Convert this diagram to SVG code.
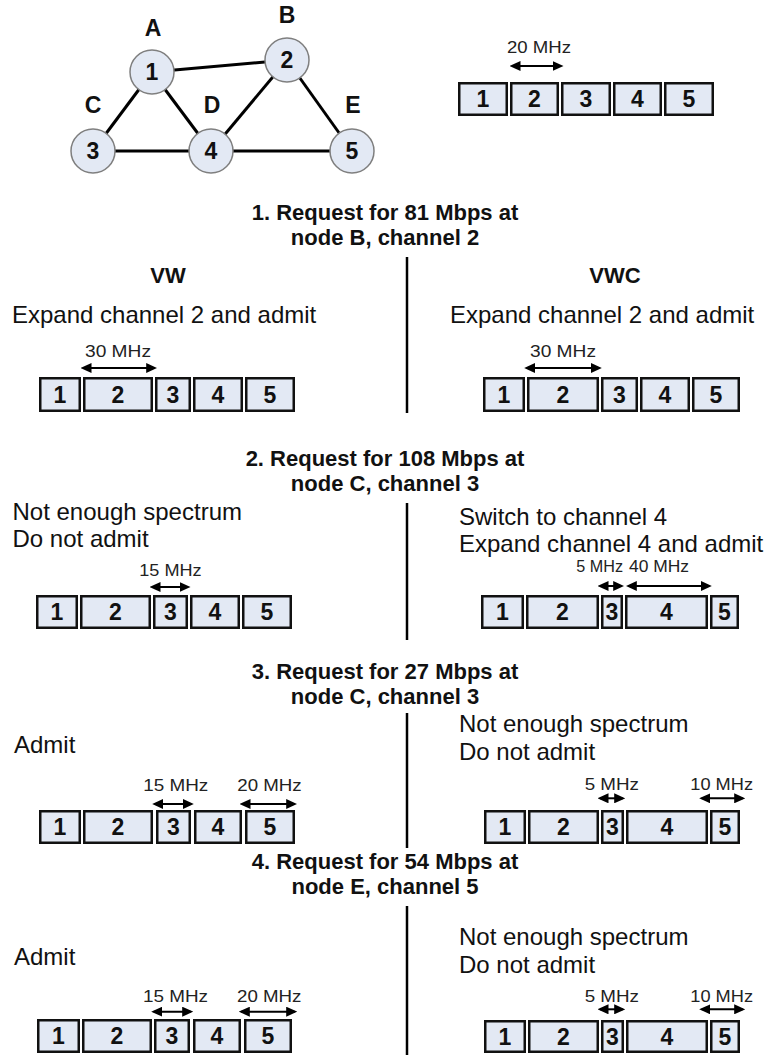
<svg xmlns="http://www.w3.org/2000/svg" width="766" height="1055" viewBox="0 0 766 1055">
<defs>
<style>
.bg{fill:#ffffff}
.edge{stroke:#000;stroke-width:3}
.node{fill:#e3e9f4;stroke:#7f7f7f;stroke-width:1.5}
.box{fill:#e3e9f4;stroke:#111;stroke-width:2.5}
.num{font-family:"Liberation Sans",Arial,sans-serif;font-weight:bold;font-size:23px;text-anchor:middle;fill:#111}
.lbl{font-family:"Liberation Sans",Arial,sans-serif;font-weight:bold;font-size:23px;text-anchor:middle;fill:#111}
.title{font-family:"Liberation Sans",Arial,sans-serif;font-weight:bold;font-size:22px;text-anchor:middle;fill:#111}
.body{font-family:"Liberation Sans",Arial,sans-serif;font-size:24px;fill:#111}
.mhz{font-family:"Liberation Sans",Arial,sans-serif;font-size:16.5px;fill:#222}
.arr{stroke:#000;stroke-width:2;fill:none;marker-start:url(#ah);marker-end:url(#ah)}
.div{stroke:#000;stroke-width:2.5}
</style>
<marker id="ah" markerUnits="userSpaceOnUse" markerWidth="11" markerHeight="10" refX="8.5" refY="5" orient="auto-start-reverse" viewBox="0 0 11 10">
<path d="M0,0 L11,5 L0,10 z" fill="#000"/>
</marker>
</defs>
<rect class="bg" x="0" y="0" width="766" height="1055"/>

<g id="connectors">
<line class="edge" x1="152" y1="72" x2="287" y2="60"/>
<line class="edge" x1="152" y1="72" x2="93" y2="151"/>
<line class="edge" x1="152" y1="72" x2="211" y2="151"/>
<line class="edge" x1="287" y1="60" x2="211" y2="151"/>
<line class="edge" x1="287" y1="60" x2="352" y2="151"/>
<line class="edge" x1="93" y1="151" x2="211" y2="151"/>
<line class="edge" x1="211" y1="151" x2="352" y2="151"/>
</g>

<g id="node-1"><circle class="node" cx="152" cy="72" r="22"/><text class="num" x="152" y="80">1</text><text class="lbl" x="153" y="36">A</text></g>
<g id="node-2"><circle class="node" cx="287" cy="60" r="22"/><text class="num" x="287" y="68">2</text><text class="lbl" x="287" y="23">B</text></g>
<g id="node-3"><circle class="node" cx="93" cy="151" r="22"/><text class="num" x="93" y="159">3</text><text class="lbl" x="93" y="113">C</text></g>
<g id="node-4"><circle class="node" cx="211" cy="151" r="22"/><text class="num" x="211" y="159">4</text><text class="lbl" x="212" y="113">D</text></g>
<g id="node-5"><circle class="node" cx="352" cy="151" r="22"/><text class="num" x="352" y="159">5</text><text class="lbl" x="353" y="113">E</text></g>

<g id="bar-initial">
<rect class="box" x="459.25" y="83.25" width="47.5" height="31.5"/>
<rect class="box" x="511.25" y="83.25" width="46.5" height="31.5"/>
<rect class="box" x="562.25" y="83.25" width="47.5" height="31.5"/>
<rect class="box" x="614.25" y="83.25" width="46.5" height="31.5"/>
<rect class="box" x="665.25" y="83.25" width="47.5" height="31.5"/>
<text class="num" x="483" y="107">1</text><text class="num" x="534.5" y="107">2</text><text class="num" x="586" y="107">3</text><text class="num" x="637.5" y="107">4</text><text class="num" x="689" y="107">5</text>
<line class="arr" x1="512" y1="66" x2="561" y2="66"/>
<text class="mhz" x="507" y="53" textLength="64" lengthAdjust="spacingAndGlyphs">20 MHz</text>
</g>

<g id="step-1">
<text class="title" x="385" y="220">1. Request for 81 Mbps at</text>
<text class="title" x="385" y="245">node B, channel 2</text>
<text class="title" x="168" y="283">VW</text>
<text class="title" x="615" y="283">VWC</text>
<line class="div" x1="407" y1="257" x2="407" y2="413"/>
<text class="body" x="12" y="323">Expand channel 2 and admit</text>
<text class="body" x="450" y="323">Expand channel 2 and admit</text>
</g>
<g id="bar-1-vw">
<rect class="box" x="40.25" y="378.25" width="39.5" height="32.5"/>
<rect class="box" x="84.25" y="378.25" width="67.5" height="32.5"/>
<rect class="box" x="156.25" y="378.25" width="33.5" height="32.5"/>
<rect class="box" x="194.25" y="378.25" width="47.5" height="32.5"/>
<rect class="box" x="246.25" y="378.25" width="47.5" height="32.5"/>
<text class="num" x="60" y="403">1</text><text class="num" x="118" y="403">2</text><text class="num" x="173" y="403">3</text><text class="num" x="218" y="403">4</text><text class="num" x="270" y="403">5</text>
<line class="arr" x1="83" y1="368" x2="154.7" y2="368"/>
<text class="mhz" x="85" y="357" textLength="66" lengthAdjust="spacingAndGlyphs">30 MHz</text>
</g>
<g id="bar-1-vwc">
<rect class="box" x="484.25" y="378.25" width="39.5" height="32.5"/>
<rect class="box" x="528.25" y="378.25" width="69.5" height="32.5"/>
<rect class="box" x="602.25" y="378.25" width="34.5" height="32.5"/>
<rect class="box" x="641.25" y="378.25" width="47.5" height="32.5"/>
<rect class="box" x="693.25" y="378.25" width="45.5" height="32.5"/>
<text class="num" x="504" y="403">1</text><text class="num" x="563" y="403">2</text><text class="num" x="619.5" y="403">3</text><text class="num" x="665" y="403">4</text><text class="num" x="716" y="403">5</text>
<line class="arr" x1="526.7" y1="368" x2="599.3" y2="368"/>
<text class="mhz" x="530" y="357" textLength="66" lengthAdjust="spacingAndGlyphs">30 MHz</text>
</g>

<g id="step-2">
<text class="title" x="385" y="466">2. Request for 108 Mbps at</text>
<text class="title" x="385" y="491">node C, channel 3</text>
<line class="div" x1="407" y1="503" x2="407" y2="640"/>
<text class="body" x="12.5" y="520">Not enough spectrum</text>
<text class="body" x="12.5" y="547">Do not admit</text>
<text class="body" x="459" y="525">Switch to channel 4</text>
<text class="body" x="459" y="552">Expand channel 4 and admit</text>
</g>
<g id="bar-2-vw">
<rect class="box" x="37.25" y="596.25" width="39.5" height="31.5"/>
<rect class="box" x="81.25" y="596.25" width="68.5" height="31.5"/>
<rect class="box" x="154.25" y="596.25" width="32.5" height="31.5"/>
<rect class="box" x="191.25" y="596.25" width="47.5" height="31.5"/>
<rect class="box" x="243.25" y="596.25" width="47.5" height="31.5"/>
<text class="num" x="57" y="620">1</text><text class="num" x="115.5" y="620">2</text><text class="num" x="170.5" y="620">3</text><text class="num" x="215" y="620">4</text><text class="num" x="267" y="620">5</text>
<line class="arr" x1="152" y1="587" x2="188" y2="587"/>
<text class="mhz" x="139.3" y="576" textLength="62.3" lengthAdjust="spacingAndGlyphs">15 MHz</text>
</g>
<g id="bar-2-vwc">
<rect class="box" x="482.25" y="596.25" width="40.5" height="31.5"/>
<rect class="box" x="527.25" y="596.25" width="70.5" height="31.5"/>
<rect class="box" x="602.25" y="596.25" width="19.5" height="31.5"/>
<rect class="box" x="626.25" y="596.25" width="80.5" height="31.5"/>
<rect class="box" x="711.25" y="596.25" width="26.5" height="31.5"/>
<text class="num" x="502.5" y="620">1</text><text class="num" x="562.5" y="620">2</text><text class="num" x="612" y="620">3</text><text class="num" x="666.5" y="620">4</text><text class="num" x="724.5" y="620">5</text>
<line class="arr" x1="600" y1="586" x2="621.7" y2="586"/>
<line class="arr" x1="628.3" y1="586" x2="709.3" y2="586"/>
<text class="mhz" x="576.3" y="572" textLength="46.7" lengthAdjust="spacingAndGlyphs">5 MHz</text>
<text class="mhz" x="629" y="572" textLength="60" lengthAdjust="spacingAndGlyphs">40 MHz</text>
</g>

<g id="step-3">
<text class="title" x="385" y="679">3. Request for 27 Mbps at</text>
<text class="title" x="385" y="704">node C, channel 3</text>
<line class="div" x1="407" y1="713" x2="407" y2="848"/>
<text class="body" x="14" y="753">Admit</text>
<text class="body" x="459" y="732">Not enough spectrum</text>
<text class="body" x="459" y="760">Do not admit</text>
</g>
<g id="bar-3-vw">
<rect class="box" x="40.25" y="811.25" width="39.5" height="31.5"/>
<rect class="box" x="84.25" y="811.25" width="67.5" height="31.5"/>
<rect class="box" x="157.25" y="811.25" width="32.5" height="31.5"/>
<rect class="box" x="195.25" y="811.25" width="45.5" height="31.5"/>
<rect class="box" x="246.25" y="811.25" width="47.5" height="31.5"/>
<text class="num" x="60" y="835">1</text><text class="num" x="118" y="835">2</text><text class="num" x="173.5" y="835">3</text><text class="num" x="218" y="835">4</text><text class="num" x="270" y="835">5</text>
<line class="arr" x1="154.7" y1="804" x2="191.3" y2="804"/>
<line class="arr" x1="242" y1="804" x2="294.7" y2="804"/>
<text class="mhz" x="143.3" y="791" textLength="65" lengthAdjust="spacingAndGlyphs">15 MHz</text>
<text class="mhz" x="237.3" y="791" textLength="64.4" lengthAdjust="spacingAndGlyphs">20 MHz</text>
</g>
<g id="bar-3-vwc">
<rect class="box" x="485.25" y="811.25" width="39.5" height="31.5"/>
<rect class="box" x="529.25" y="811.25" width="68.5" height="31.5"/>
<rect class="box" x="602.25" y="811.25" width="20.5" height="31.5"/>
<rect class="box" x="627.25" y="811.25" width="79.5" height="31.5"/>
<rect class="box" x="711.25" y="811.25" width="27.5" height="31.5"/>
<text class="num" x="505" y="835">1</text><text class="num" x="563.5" y="835">2</text><text class="num" x="612.5" y="835">3</text><text class="num" x="667" y="835">4</text><text class="num" x="725" y="835">5</text>
<line class="arr" x1="600" y1="798.3" x2="622.7" y2="798.3"/>
<line class="arr" x1="701.7" y1="798.3" x2="742.7" y2="798.3"/>
<text class="mhz" x="584.7" y="790" textLength="54.3" lengthAdjust="spacingAndGlyphs">5 MHz</text>
<text class="mhz" x="690.3" y="790" textLength="62.7" lengthAdjust="spacingAndGlyphs">10 MHz</text>
</g>

<g id="step-4">
<text class="title" x="385" y="869">4. Request for 54 Mbps at</text>
<text class="title" x="385" y="894">node E, channel 5</text>
<line class="div" x1="407" y1="906" x2="407" y2="1055"/>
<text class="body" x="14" y="965">Admit</text>
<text class="body" x="459" y="945">Not enough spectrum</text>
<text class="body" x="459" y="973">Do not admit</text>
</g>
<g id="bar-4-vw">
<rect class="box" x="38.25" y="1020.25" width="40.5" height="31.5"/>
<rect class="box" x="83.25" y="1020.25" width="67.5" height="31.5"/>
<rect class="box" x="155.25" y="1020.25" width="33.5" height="31.5"/>
<rect class="box" x="194.25" y="1020.25" width="45.5" height="31.5"/>
<rect class="box" x="245.25" y="1020.25" width="45.5" height="31.5"/>
<text class="num" x="58.5" y="1044">1</text><text class="num" x="117" y="1044">2</text><text class="num" x="172" y="1044">3</text><text class="num" x="217" y="1044">4</text><text class="num" x="268" y="1044">5</text>
<line class="arr" x1="153.7" y1="1011.7" x2="190.7" y2="1011.7"/>
<line class="arr" x1="241.3" y1="1011.7" x2="294.7" y2="1011.7"/>
<text class="mhz" x="143" y="1002" textLength="65" lengthAdjust="spacingAndGlyphs">15 MHz</text>
<text class="mhz" x="237" y="1002" textLength="64.4" lengthAdjust="spacingAndGlyphs">20 MHz</text>
</g>
<g id="bar-4-vwc">
<rect class="box" x="485.25" y="1021.25" width="39.5" height="30.5"/>
<rect class="box" x="529.25" y="1021.25" width="68.5" height="30.5"/>
<rect class="box" x="602.25" y="1021.25" width="20.5" height="30.5"/>
<rect class="box" x="627.25" y="1021.25" width="79.5" height="30.5"/>
<rect class="box" x="711.25" y="1021.25" width="27.5" height="30.5"/>
<text class="num" x="505" y="1044.5">1</text><text class="num" x="563.5" y="1044.5">2</text><text class="num" x="612.5" y="1044.5">3</text><text class="num" x="667" y="1044.5">4</text><text class="num" x="725" y="1044.5">5</text>
<line class="arr" x1="600" y1="1009.3" x2="622.7" y2="1009.3"/>
<line class="arr" x1="701.7" y1="1009.3" x2="742.7" y2="1009.3"/>
<text class="mhz" x="584.7" y="1002" textLength="54.3" lengthAdjust="spacingAndGlyphs">5 MHz</text>
<text class="mhz" x="690.3" y="1002" textLength="62.7" lengthAdjust="spacingAndGlyphs">10 MHz</text>
</g>
</svg>
